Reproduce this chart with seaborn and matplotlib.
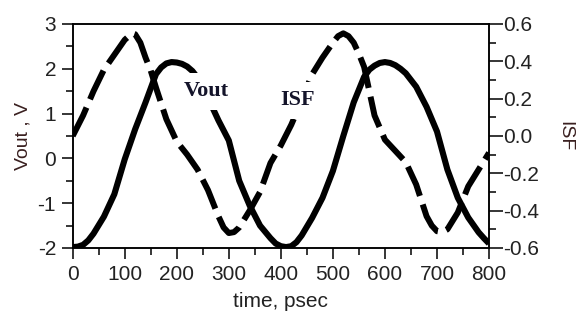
import matplotlib
matplotlib.use("Agg")
import matplotlib.pyplot as plt
import seaborn as sns
import numpy as np
import pandas as pd
from matplotlib.ticker import MultipleLocator, FormatStrFormatter

# ---- data ----
vout_time = [0, 10, 20, 30, 40, 60, 80, 100, 120, 140, 160, 170, 180, 190, 200,
             210, 220, 230, 240, 260, 280, 300, 320, 340, 360, 380, 390, 400,
             410, 420, 430, 440, 460, 480, 500, 520, 540, 560, 570, 580, 590,
             600, 610, 620, 630, 640, 660, 680, 700, 720, 740, 760, 780, 790, 800]
vout_v = [-1.98, -1.97, -1.93, -1.83, -1.68, -1.30, -0.80, -0.02, 0.65, 1.25,
          1.88, 2.03, 2.12, 2.15, 2.14, 2.11, 2.05, 1.95, 1.80, 1.35, 0.85, 0.40,
          -0.50, -1.05, -1.50, -1.78, -1.90, -1.96, -1.98, -1.96, -1.87, -1.72,
          -1.33, -0.88, -0.28, 0.50, 1.25, 1.82, 1.98, 2.07, 2.13, 2.15, 2.13,
          2.08, 2.00, 1.90, 1.60, 1.15, 0.60, -0.25, -0.88, -1.32, -1.65, -1.78,
          -1.90]
isf_time = [0, 20, 40, 60, 80, 100, 110, 115, 120, 130, 140, 150, 160, 180, 200,
            220, 240, 260, 270, 280, 290, 300, 310, 320, 340, 360, 380, 400, 420,
            440, 460, 480, 500, 510, 520, 530, 540, 550, 560, 580, 600, 620, 640,
            660, 680, 690, 700, 710, 720, 740, 760, 780, 800]
isf = [0.00, 0.11, 0.24, 0.355, 0.435, 0.515, 0.54, 0.55, 0.545, 0.50, 0.42,
       0.35, 0.26, 0.09, -0.03, -0.10, -0.18, -0.29, -0.36, -0.43, -0.49, -0.52,
       -0.515, -0.49, -0.40, -0.30, -0.145, -0.05, 0.06, 0.19, 0.33, 0.42, 0.50,
       0.535, 0.55, 0.535, 0.50, 0.44, 0.37, 0.11, -0.02, -0.08, -0.14, -0.26,
       -0.43, -0.48, -0.51, -0.515, -0.50, -0.41, -0.27, -0.18, -0.09]
x_ticks = [0, 100, 200, 300, 400, 500, 600, 700, 800]
vout_ticks = [-2, -1, 0, 1, 2, 3]
isf_ticks = [-0.6, -0.4, -0.2, 0.0, 0.2, 0.4, 0.6]
df_v = pd.DataFrame({"time": vout_time, "Vout": vout_v})
df_i = pd.DataFrame({"time": isf_time, "ISF": isf})

sns.set_style("white")
plt.rcParams["font.family"] = ["Liberation Sans", "DejaVu Sans"]
plt.rcParams["axes.unicode_minus"] = False

fig = plt.figure(figsize=(5.81, 3.26), dpi=100)
ax = fig.add_axes([0.1251, 0.2393, 0.7166, 0.6871])
ax2 = ax.twinx()
ax.set_position([0.1251, 0.2393, 0.7166, 0.6871])
ax2.set_position([0.1251, 0.2393, 0.7166, 0.6871])

sns.lineplot(data=df_v, x="time", y="Vout", ax=ax, color="black", lw=4.4,
             solid_joinstyle="round", solid_capstyle="butt")
sns.lineplot(data=df_i, x="time", y="ISF", ax=ax2, color="black", lw=4.3)
ax2.lines[0].set_dashes([5.3, 1.5])
ax2.lines[0].set_dash_joinstyle("round")

ax.set_xlim(0, 800)
ax.set_ylim(-2, 3)
ax2.set_ylim(-0.6, 0.6)

txtc = "#222222"
ax.set_xticks(x_ticks)
ax.set_yticks(vout_ticks)
ax.xaxis.set_minor_locator(MultipleLocator(50))
ax.yaxis.set_minor_locator(MultipleLocator(0.5))
ax2.set_yticks(isf_ticks)
ax2.yaxis.set_minor_locator(MultipleLocator(0.1))
ax2.yaxis.set_major_formatter(FormatStrFormatter("%.1f"))

ax.tick_params(axis="both", which="major", direction="out", length=8, width=1.1,
               labelsize=15, colors="black", labelcolor=txtc, pad=4)
ax.tick_params(axis="both", which="minor", direction="out", length=5, width=1.1,
               colors="black")
ax.tick_params(axis="x", which="both", bottom=True, top=False)
ax.tick_params(axis="y", which="both", left=True, right=False)
ax2.tick_params(axis="y", which="major", direction="out", length=10, width=1.1,
                labelsize=15, colors="black", labelcolor=txtc, pad=0.5, right=True)
ax2.tick_params(axis="y", which="minor", direction="out", length=5, width=1.1,
                colors="black", right=True)

for a in (ax, ax2):
    for s in a.spines.values():
        s.set_visible(True)
        s.set_linewidth(1.1)
        s.set_color("black")

ax.set_xlabel("time, psec", fontsize=15, color=txtc, labelpad=6)
ax.set_ylabel("Vout , V", fontsize=14, color="#3a2020", labelpad=4)
ax2.set_ylabel("ISF", fontsize=14, color="#3a2020", rotation=270, labelpad=24)

lab_kw = dict(fontsize=16, fontweight="bold", family=["Liberation Serif", "DejaVu Serif"],
              color="#14142a", ha="center", va="center", zorder=10,
              transform=ax.transData,
              bbox=dict(facecolor="white", edgecolor="none", pad=6))
ax2.text(256, 1.5, "Vout", **lab_kw)
ax2.text(433, 1.30, "ISF", **lab_kw)

fig.savefig("out.png", dpi=100)
